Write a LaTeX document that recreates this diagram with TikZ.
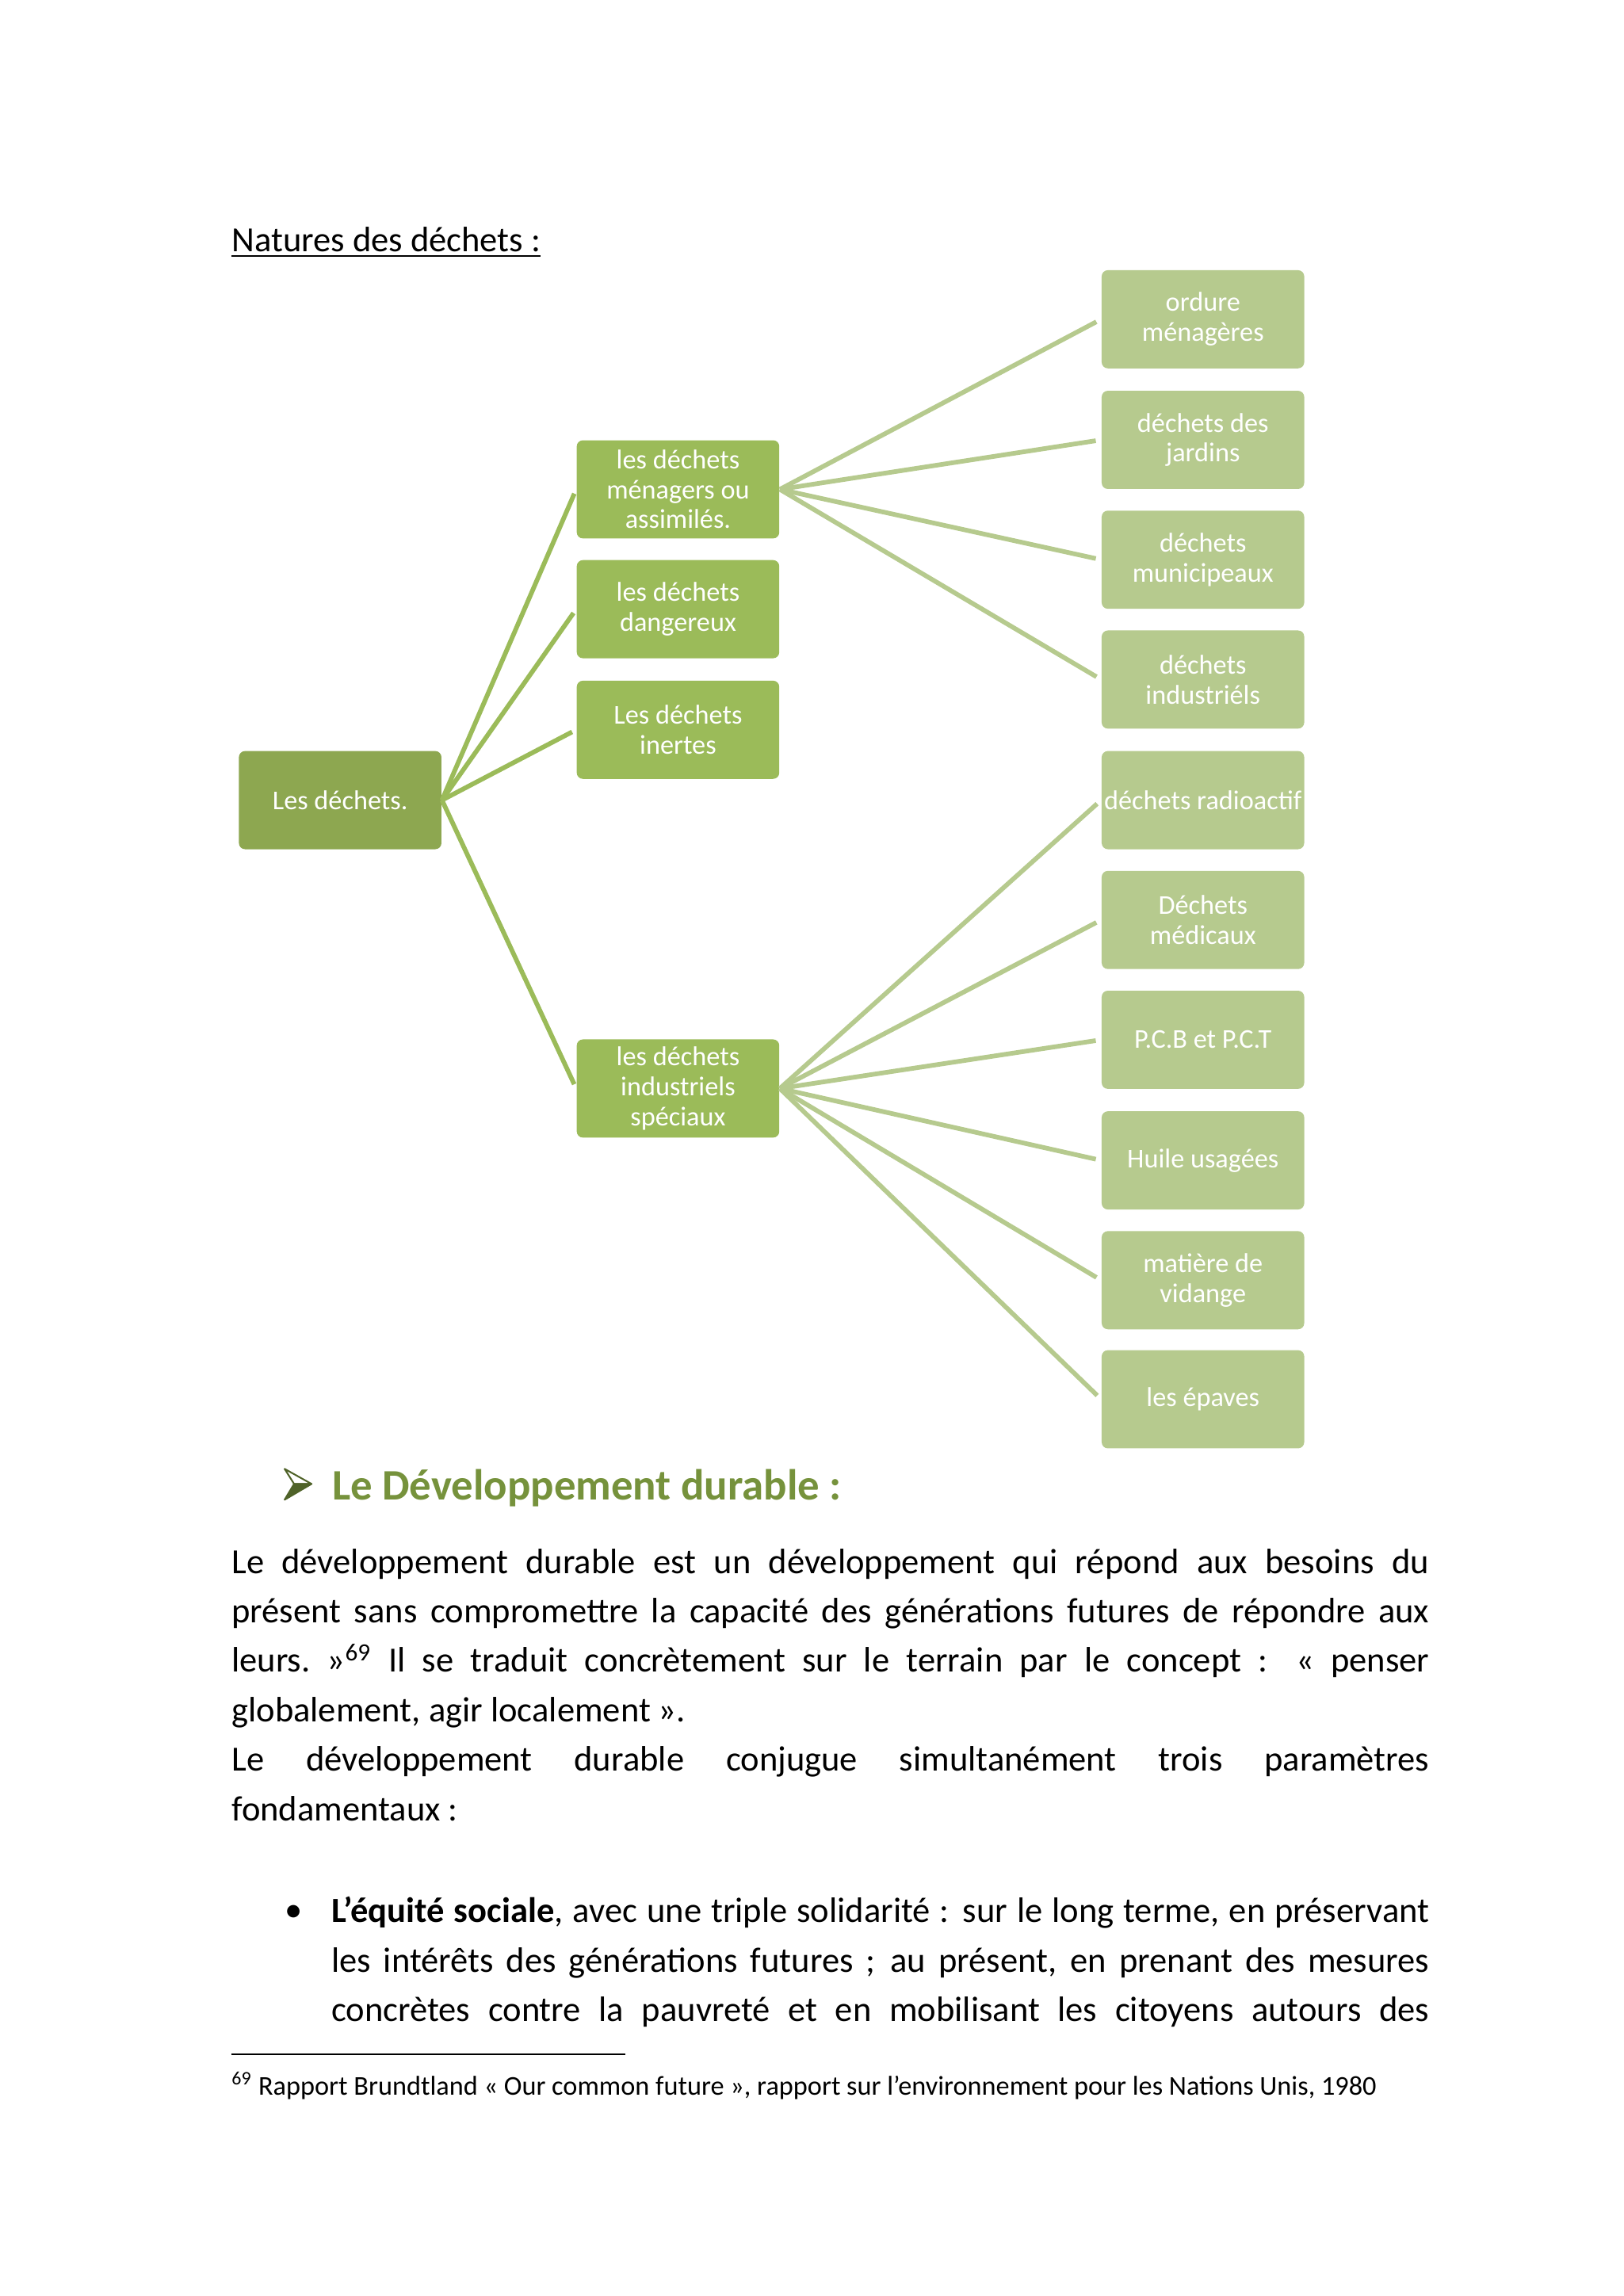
\documentclass[tikz,border=0pt]{standalone}
\usepackage{fontspec}
\setmainfont{Carlito}
\definecolor{vertracine}{HTML}{8DA750}
\definecolor{vertun}{HTML}{9BBB59}
\definecolor{vertdeux}{HTML}{B6CA8E}
\definecolor{vertdd}{HTML}{76923C}
\definecolor{vertfonce}{HTML}{4F6228}
\begin{document}
\begin{tikzpicture}[y=-1cm,
    boite/.style={rounded corners=0.8mm, text=white, align=center, minimum width=2.62cm,
      minimum height=1.27cm, inner sep=1pt, font=\fontsize{10}{11}\selectfont},
    racine/.style={boite, fill=vertracine},
    niveauun/.style={boite, fill=vertun},
    niveaudeux/.style={boite, fill=vertdeux},
    lienun/.style={draw=vertun, line width=1.7pt, shorten >=0.06cm},
    liendeux/.style={draw=vertdeux, line width=1.7pt, shorten >=0.07cm},
    texte/.style={anchor=base west, inner sep=0, align=left}]
      \useasboundingbox (0, 0) rectangle (21, 29.7);
      \node[texte, font=\fontsize{13}{15}\selectfont] (natures) at (2.99, 3.26){\underline{Natures des déchets :}};
      % arbre
      \node[racine] (dechets) at (4.40, 10.35){Les déchets.};
      \node[niveauun] (menagers) at (8.77, 6.33){les déchets\\ménagers ou\\assimilés.};
      \node[niveauun] (dangereux) at (8.77, 7.88){les déchets\\dangereux};
      \node[niveauun] (inertes) at (8.77, 9.44){Les déchets\\inertes};
      \node[niveauun] (speciaux) at (8.77, 14.08){les déchets\\industriels\\spéciaux};
      \node[niveaudeux] (ordure) at (15.56, 4.13){ordure\\ménagères};
      \node[niveaudeux] (jardins) at (15.56, 5.69){déchets des\\jardins};
      \node[niveaudeux] (municipaux) at (15.56, 7.24){déchets\\municipeaux};
      \node[niveaudeux] (industriels) at (15.56, 8.79){déchets\\industriéls};
      \node[niveaudeux] (radioactif) at (15.56, 10.35){\makebox[2.5cm]{déchets radioactif}};
      \node[niveaudeux] (medicaux) at (15.56, 11.90){Déchets\\médicaux};
      \node[niveaudeux] (pcb) at (15.56, 13.45){P.C.B et P.C.T};
      \node[niveaudeux] (huile) at (15.56, 15.01){Huile usagées};
      \node[niveaudeux] (vidange) at (15.56, 16.56){matière de\\vidange};
      \node[niveaudeux] (epaves) at (15.56, 18.10){les épaves};
      \draw[lienun] (dechets.east) to (menagers.west);
      \draw[lienun] (dechets.east) to (dangereux.west);
      \draw[lienun] (dechets.east) to (inertes.west);
      \draw[lienun] (dechets.east) to (speciaux.west);
      \draw[liendeux] (menagers.east) to (ordure.west);
      \draw[liendeux] (menagers.east) to (jardins.west);
      \draw[liendeux] (menagers.east) to (municipaux.west);
      \draw[liendeux] (menagers.east) to (industriels.west);
      \draw[liendeux] (speciaux.east) to (radioactif.west);
      \draw[liendeux] (speciaux.east) to (medicaux.west);
      \draw[liendeux] (speciaux.east) to (pcb.west);
      \draw[liendeux] (speciaux.east) to (huile.west);
      \draw[liendeux] (speciaux.east) to (vidange.west);
      \draw[liendeux] (speciaux.east) to (epaves.west);
      % titre
      \filldraw[fill=white, draw=vertfonce, line width=0.6pt, line join=round]
        (3.681, 19.000) -- (4.030, 19.195) -- (3.804, 19.195) -- cycle;
      \filldraw[fill=vertfonce, draw=vertfonce, line width=0.6pt, line join=round]
        (3.804, 19.195) -- (4.030, 19.195) -- (3.681, 19.400) -- cycle;
      \node[texte, text=vertdd, font=\fontsize{16}{19}\selectfont\bfseries] (durable) at (4.29, 19.40){Le Développement durable :};
      % texte (base = derniere ligne)
      \node[texte, font=\fontsize{13}{18.2}\selectfont] (paragraphe) at (2.99, 23.55){%
        \makebox[15.49cm][s]{Le développement durable est un développement qui répond aux besoins du}\\
        \makebox[15.49cm][s]{présent sans compromettre la capacité des générations futures de répondre aux}\\
        \makebox[15.49cm][s]{leurs.~»\textsuperscript{69} Il se traduit concrètement sur le terrain par le concept : «~penser}\\
        globalement, agir localement~».\\
        \makebox[15.49cm][s]{Le développement durable conjugue simultanément trois paramètres}\\
        fondamentaux :};
      \node[texte, font=\fontsize{13}{18.2}\selectfont] (puce) at (3.68, 24.86){•};
      \node[texte, font=\fontsize{13}{18.2}\selectfont] (equite) at (4.28, 26.15){%
        \makebox[14.2cm][s]{\textbf{L’équité sociale}, avec une triple solidarité : sur le long terme, en préservant}\\
        \makebox[14.2cm][s]{les intérêts des générations futures ; au présent, en prenant des mesures}\\
        \makebox[14.2cm][s]{concrètes contre la pauvreté et en mobilisant les citoyens autours des}};
      % note
      \coordinate (filet) at (2.99, 26.57);
      \draw[line width=0.6pt] (filet) to ++(5.1, 0);
      \node[texte, font=\fontsize{10}{12}\selectfont] (note) at (2.99, 27.10){\textsuperscript{69} Rapport Brundtland «~Our common future~», rapport sur l’environnement pour les Nations Unis, 1980};
    \end{tikzpicture}
\end{document}
